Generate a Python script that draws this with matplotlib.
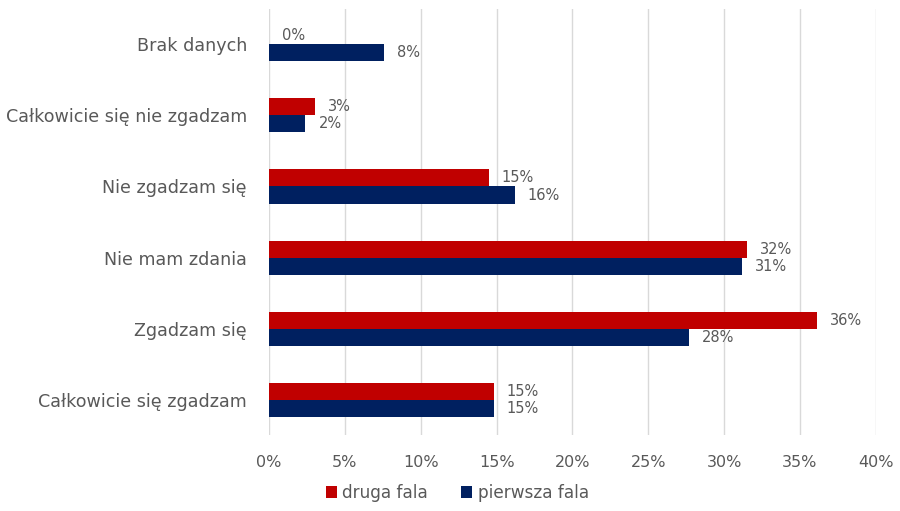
import numpy as np
import matplotlib
matplotlib.use("Agg")
import matplotlib.pyplot as plt

categories = ["Całkowicie się zgadzam", "Zgadzam się", "Nie mam zdania",
              "Nie zgadzam się", "Całkowicie się nie zgadzam", "Brak danych"]
druga = [14.8, 36.1, 31.5, 14.5, 3.0, 0.0]
pierwsza = [14.8, 27.7, 31.2, 16.2, 2.4, 7.6]
druga_lbl = ["15%", "36%", "32%", "15%", "3%", "0%"]
pierwsza_lbl = ["15%", "28%", "31%", "16%", "2%", "8%"]
xticks = [0, 5, 10, 15, 20, 25, 30, 35, 40]

red = "#C00000"
navy = "#002060"
gray = "#595959"

plt.rcParams['font.family'] = ['DejaVu Sans']
fig = plt.figure(figsize=(9, 5.11), dpi=100)
ax = fig.add_axes([0.299, 0.148, 0.674, 0.835])

y = np.arange(len(categories))
h = 0.24
ax.barh(y + h / 2, druga, height=h, color=red, label="druga fala", zorder=3)
ax.barh(y - h / 2, pierwsza, height=h, color=navy, label="pierwsza fala", zorder=3)

for yi, v, s in zip(y, druga, druga_lbl):
    ax.text(v + 0.85, yi + h / 2, s, va="center", ha="left", fontsize=10.5, color=gray)
for yi, v, s in zip(y, pierwsza, pierwsza_lbl):
    ax.text(v + 0.85, yi - h / 2, s, va="center", ha="left", fontsize=10.5, color=gray)

ax.set_xlim(0, 40)
ax.set_ylim(-0.5, 5.5)
ax.set_xticks(xticks)
ax.set_xticklabels([f"{t}%" for t in xticks], color=gray, fontsize=11.5)
ax.set_yticks(y)
ax.set_yticklabels(categories, color=gray, fontsize=12.6)
ax.tick_params(axis="both", length=0)
ax.tick_params(axis="x", pad=14)
ax.tick_params(axis="y", pad=16)
ax.grid(axis="x", color="#D9D9D9", linewidth=1, zorder=0)
for sp in ax.spines.values():
    sp.set_visible(False)

leg = fig.legend(loc="lower center", bbox_to_anchor=(0.508, -0.012), ncol=2, frameon=False,
                 fontsize=12.2, handlelength=0.65, handleheight=0.65, handletextpad=0.3,
                 columnspacing=2.0)
for t in leg.get_texts():
    t.set_color(gray)

fig.savefig("out.png", dpi=100)
